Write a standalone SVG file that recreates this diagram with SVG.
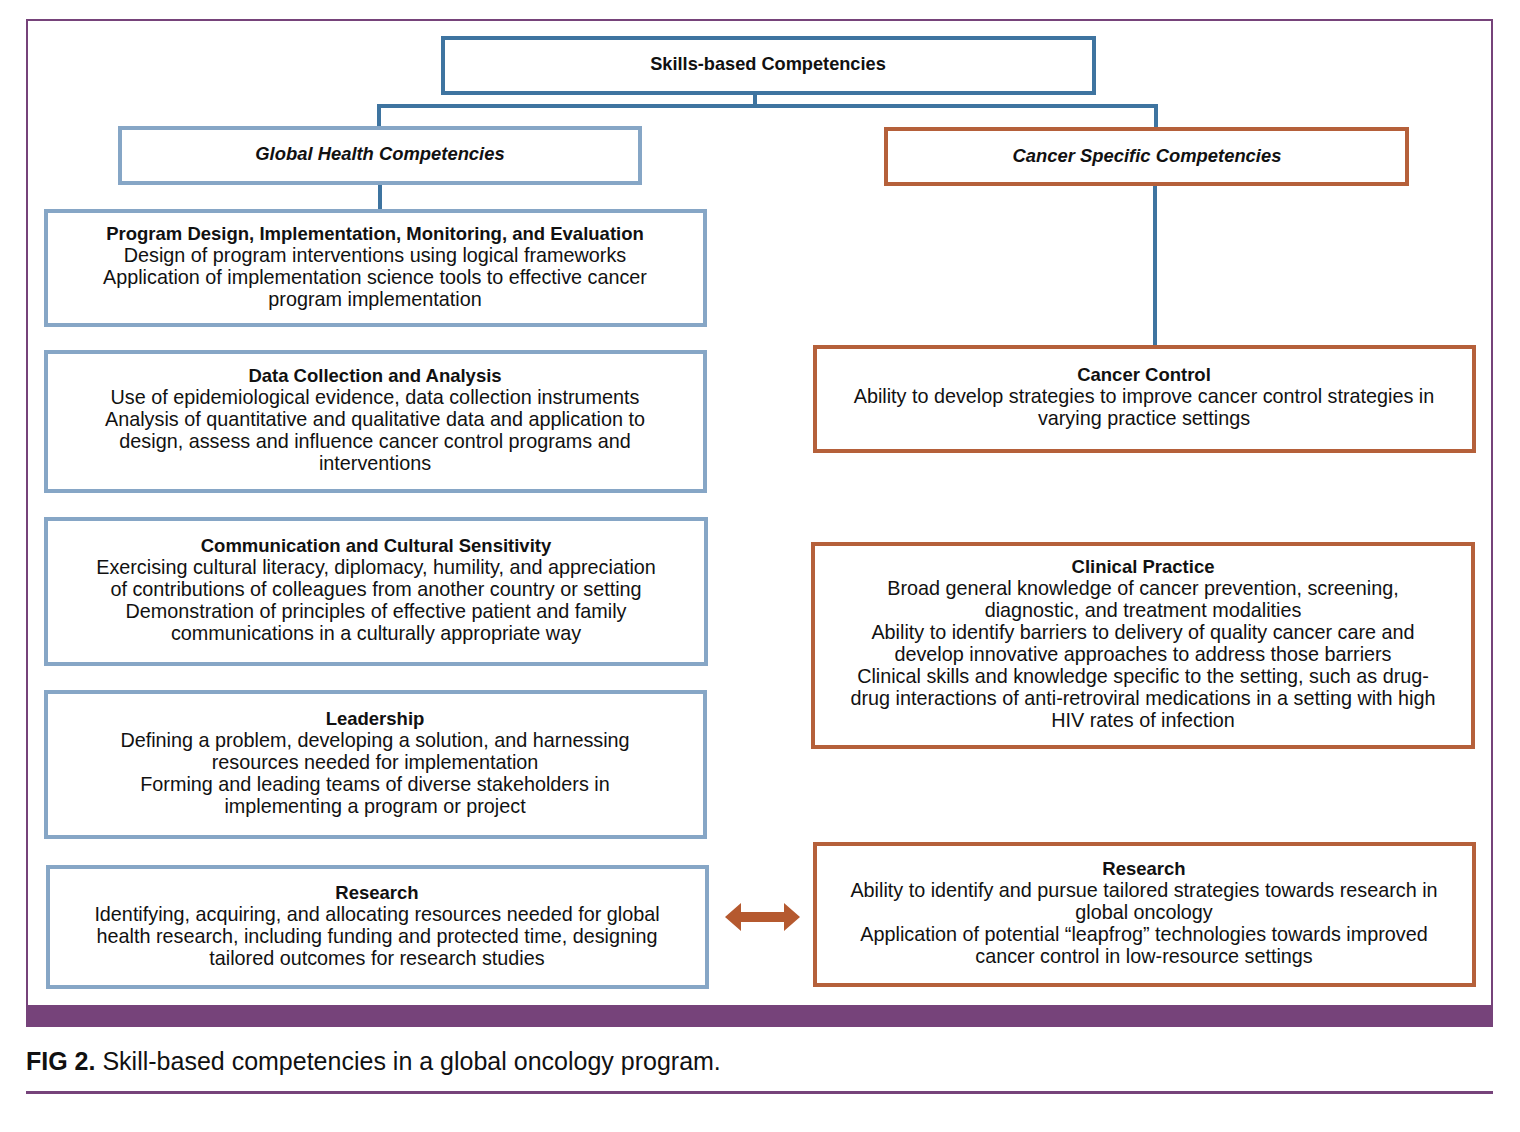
<svg xmlns="http://www.w3.org/2000/svg" width="1520" height="1132" viewBox="0 0 1520 1132">
<style>
text{font-family:"Liberation Sans",Arial,sans-serif;font-size:19.8px;fill:#111;text-anchor:middle}
.b{font-weight:bold;font-size:18.5px}
.t{font-weight:bold;font-size:18.2px}
.bi{font-weight:bold;font-style:italic;font-size:18.4px}
.gh{fill:#fff;stroke:#86a6c6;stroke-width:4}
.cs{fill:#fff;stroke:#b5603a;stroke-width:4}
.top{fill:#fff;stroke:#3e74a0;stroke-width:4}
.con{fill:none;stroke:#3e74a0;stroke-width:4}
.cap{font-size:25px;text-anchor:start}
</style>
<rect x="0" y="0" width="1520" height="1132" fill="#fff"/>
<rect x="27" y="20" width="1465" height="995" fill="none" stroke="#76437a" stroke-width="2"/>
<rect x="26" y="1005" width="1467" height="22" fill="#76437a"/>
<g id="connectors">
<polyline class="con" points="755,93 755,106"/>
<polyline class="con" points="379,127 379,106 1156,106 1156,128"/>
<line class="con" x1="380" y1="183" x2="380" y2="210" stroke-width="3"/>
<line class="con" x1="1155" y1="184" x2="1155" y2="346" stroke-width="3"/>
<polygon points="725,917 741,903 741,912 784,912 784,903 800,917 784,931 784,922 741,922 741,931" fill="#b5592f"/>
</g>
<g id="n-top"><rect class="top" x="443" y="38" width="651" height="55"/><text class="t" x="768" y="70">Skills-based Competencies</text></g>
<g id="n-global"><rect class="gh" x="120" y="128" width="520" height="55"/><text class="bi" x="380" y="160">Global Health Competencies</text></g>
<g id="n-cancer"><rect class="cs" x="886" y="129" width="521" height="55"/><text class="bi" x="1147" y="162">Cancer Specific Competencies</text></g>
<g id="n-program"><rect class="gh" x="46" y="211" width="659" height="114"/>
<text class="b" x="375" y="240">Program Design, Implementation, Monitoring, and Evaluation</text>
<text x="375" y="262">Design of program interventions using logical frameworks</text>
<text x="375" y="284">Application of implementation science tools to effective cancer</text>
<text x="375" y="306">program implementation</text></g>
<g id="n-data"><rect class="gh" x="46" y="352" width="659" height="139"/>
<text class="b" x="375" y="382">Data Collection and Analysis</text>
<text x="375" y="404">Use of epidemiological evidence, data collection instruments</text>
<text x="375" y="426">Analysis of quantitative and qualitative data and application to</text>
<text x="375" y="448">design, assess and influence cancer control programs and</text>
<text x="375" y="470">interventions</text></g>
<g id="n-comm"><rect class="gh" x="46" y="519" width="660" height="145"/>
<text class="b" x="376" y="552">Communication and Cultural Sensitivity</text>
<text x="376" y="574">Exercising cultural literacy, diplomacy, humility, and appreciation</text>
<text x="376" y="596">of contributions of colleagues from another country or setting</text>
<text x="376" y="618">Demonstration of principles of effective patient and family</text>
<text x="376" y="640">communications in a culturally appropriate way</text></g>
<g id="n-lead"><rect class="gh" x="46" y="692" width="659" height="145"/>
<text class="b" x="375" y="725">Leadership</text>
<text x="375" y="747">Defining a problem, developing a solution, and harnessing</text>
<text x="375" y="769">resources needed for implementation</text>
<text x="375" y="791">Forming and leading teams of diverse stakeholders in</text>
<text x="375" y="813">implementing a program or project</text></g>
<g id="n-research-l"><rect class="gh" x="48" y="867" width="659" height="120"/>
<text class="b" x="377" y="899">Research</text>
<text x="377" y="921">Identifying, acquiring, and allocating resources needed for global</text>
<text x="377" y="943">health research, including funding and protected time, designing</text>
<text x="377" y="965">tailored outcomes for research studies</text></g>
<g id="n-control"><rect class="cs" x="815" y="347" width="659" height="104"/>
<text class="b" x="1144" y="381">Cancer Control</text>
<text x="1144" y="403">Ability to develop strategies to improve cancer control strategies in</text>
<text x="1144" y="425">varying practice settings</text></g>
<g id="n-clinical"><rect class="cs" x="813" y="544" width="660" height="203"/>
<text class="b" x="1143" y="573">Clinical Practice</text>
<text x="1143" y="595">Broad general knowledge of cancer prevention, screening,</text>
<text x="1143" y="617">diagnostic, and treatment modalities</text>
<text x="1143" y="639">Ability to identify barriers to delivery of quality cancer care and</text>
<text x="1143" y="661">develop innovative approaches to address those barriers</text>
<text x="1143" y="683">Clinical skills and knowledge specific to the setting, such as drug-</text>
<text x="1143" y="705">drug interactions of anti-retroviral medications in a setting with high</text>
<text x="1143" y="727">HIV rates of infection</text></g>
<g id="n-research-r"><rect class="cs" x="815" y="844" width="659" height="141"/>
<text class="b" x="1144" y="875">Research</text>
<text x="1144" y="897">Ability to identify and pursue tailored strategies towards research in</text>
<text x="1144" y="919">global oncology</text>
<text x="1144" y="941">Application of potential “leapfrog” technologies towards improved</text>
<text x="1144" y="963">cancer control in low-resource settings</text></g>
<text class="cap" x="26" y="1070"><tspan font-weight="bold">FIG 2.</tspan> Skill-based competencies in a global oncology program.</text>
<rect x="26" y="1091" width="1467" height="3" fill="#76437a"/>
</svg>
